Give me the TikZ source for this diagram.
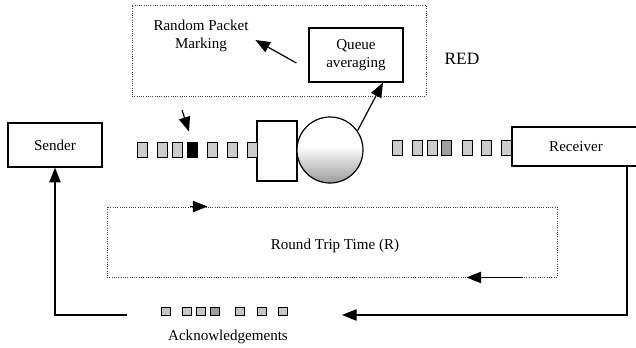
\documentclass[tikz,border=0pt]{standalone}
\usepackage{fontspec}
\setmainfont{Liberation Serif}
\usetikzlibrary{arrows.meta,calc}

\tikzset{every picture/.style={line width=0.75pt}}
\tikzset{
  box/.style={draw, line width=0.9pt, inner sep=0pt, align=center},
  dotbox/.style={draw=black!75, densely dotted, line width=0.7pt, inner sep=0pt},
  pkt/.style={draw, line width=0.6pt, inner sep=0pt},
  arr/.style={-{Triangle[length=11pt,width=8.5pt]}, line width=0.9pt},
  lbl/.style={font=\fontsize{11.3}{13.5}\selectfont, align=center, inner sep=1pt}
}

\begin{document}
\begin{tikzpicture}[x=0.75pt,y=0.75pt,yscale=-1,xscale=1]
\useasboundingbox (0,0) rectangle (636,347);

%Shape: Rectangle [RED block]
\node[dotbox, minimum width=220.5pt, minimum height=68.25pt] (redbox) at (279,50.5) {};
% Text Node
\node[lbl] (mark) at (201,36) {Random Packet\\Marking};
%Shape: Rectangle
\node[box, lbl, minimum width=70.5pt, minimum height=40.5pt] (qavg) at (356,55) {Queue\\averaging};
% Text Node
\node[font=\fontsize{13}{15}\selectfont] (red) at (462,59) {RED};

%Shape: Rectangle
\node[box, lbl, minimum width=70.5pt, minimum height=33pt] (sender) at (55,145) {Sender};
\node[box, lbl, minimum width=96pt, minimum height=29.25pt] (recv) at (576,146.5) {Receiver};
%Shape: Rectangle [queue]
\node[box, minimum width=30pt, minimum height=45pt] (buf) at (277,151) {};
%Shape: Circle [server]
\begin{scope}
  \clip (330,150) circle [radius=33];
  \shade[top color=white, bottom color=gray!80] (296,146) rectangle (364,184);
\end{scope}
\node[draw, circle, line width=0.9pt, minimum size=49.5pt, inner sep=0pt] (srv) at (330,150) {};

%Packets
\foreach \x/\f [count=\i] in {142/gray!40,162/gray!40,177/gray!40,192/black,212/gray!40,232/gray!40,252/gray!40}
  \node[pkt, fill=\f, minimum width=7.5pt, minimum height=11.25pt] (pl\i) at (\x,149.5) {};
\foreach \x/\f [count=\i] in {397/gray!40,417/gray!40,432/gray!40,446/gray!75,467/gray!40,486/gray!40,506/gray!40}
  \node[pkt, fill=\f, minimum width=7.5pt, minimum height=11.25pt] (pr\i) at (\x,148) {};
\foreach \x/\f [count=\i] in {166/gray!45,187/gray!45,201/gray!45,215/gray!75,240/gray!45,262/gray!45,283/gray!45}
  \node[pkt, fill=\f, minimum width=6.75pt, minimum height=6pt] (pa\i) at (\x,311) {};

%Round trip box
\node[dotbox, minimum width=337.5pt, minimum height=52.5pt] (rtt) at (332,242) {};
% Text Node
\node[lbl] (rttlbl) at (335,246) {Round Trip Time (R)};
% Text Node
\node[lbl] (acklbl) at (228,337) {Acknowledgements};

\coordinate (mk) at (182,110);
\coordinate (rc) at (627,315);
\coordinate (ackR) at (342,315);
\coordinate (ackL) at (127,315);

%Straight Lines
\draw[arr] (mk) -- ($(pl4.north)+(-3,-10)$);
\draw[arr] ($(qavg.west)+(-12,8)$) -- ($(mark.east)+(5,4)$);
\draw[arr] (srv.35) -- ($(qavg.south)+(27,0)$);
\draw[arr] (recv.south -| rc) -- (rc) -- (ackR);
\draw[arr] (ackL) -| (sender.south);
\draw[arr] ($(rtt.north west)+(83,0)$) -- ($(rtt.north west)+(101,0)$);
\draw[arr] ($(rtt.south east)+(-34,0)$) -- ($(rtt.south east)+(-91,0)$);

\end{tikzpicture}
\end{document}
